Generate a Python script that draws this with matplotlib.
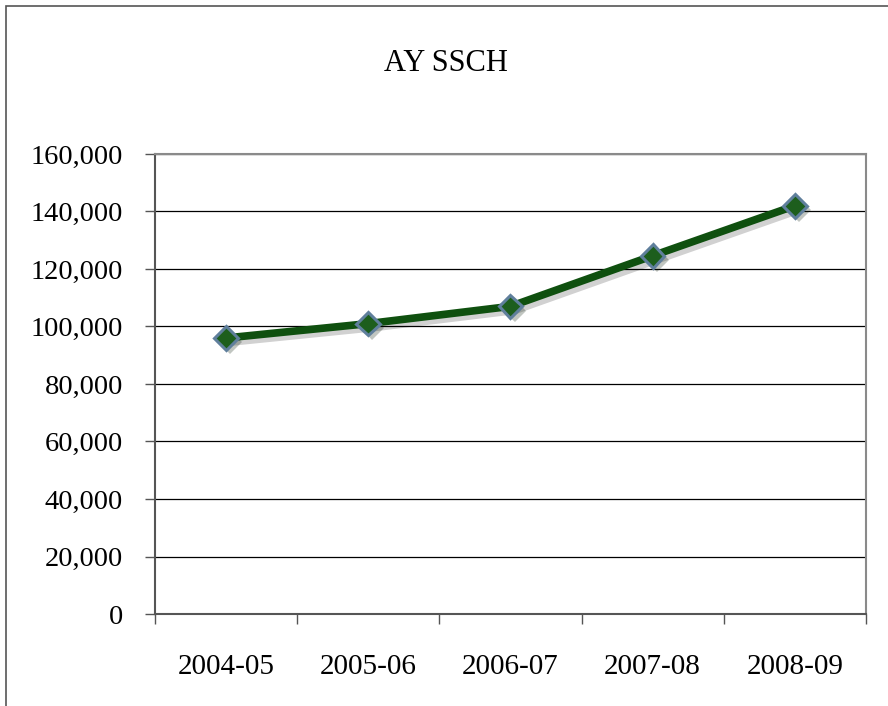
import matplotlib
matplotlib.use("Agg")
import matplotlib.pyplot as plt
import matplotlib.patheffects as pe
from matplotlib.patches import Rectangle
from matplotlib.ticker import FuncFormatter, FixedLocator

years = ["2004-05", "2005-06", "2006-07", "2007-08", "2008-09"]
ssch = [96000, 101000, 107000, 124600, 142000]
y_ticks = [0, 20000, 40000, 60000, 80000, 100000, 120000, 140000, 160000]

plt.rcParams['font.family'] = ['Liberation Serif', 'DejaVu Serif']

fig = plt.figure(figsize=(8.88, 7.06), dpi=100)
ax = fig.add_axes([0.1745, 0.1303, 0.8007, 0.6516])

# outer chart frame (cut off at right and bottom)
fig.patches.append(Rectangle((0.0062, -0.05), 1.1, 0.9915 + 0.05, transform=fig.transFigure,
                             fill=False, edgecolor="#555555", linewidth=1.2))

x = list(range(len(years)))
# line with soft shadow
ax.plot(x, ssch, color="#0f500f", linewidth=5.5, solid_joinstyle="round",
        path_effects=[pe.SimpleLineShadow(offset=(3, -3), alpha=0.18, shadow_color="black"), pe.Normal()],
        zorder=3)
# diamond markers
ax.plot(x, ssch, linestyle="none", marker="D", markersize=12,
        markerfacecolor="#1d5e1d", markeredgecolor="#5f7f9c", markeredgewidth=2.2,
        path_effects=[pe.SimplePatchShadow(offset=(3, -3), alpha=0.25), pe.Normal()],
        zorder=4)

ax.set_xlim(-0.5, len(years) - 0.5)
ax.set_ylim(0, 160000)
ax.set_yticks(y_ticks)
ax.yaxis.set_major_formatter(FuncFormatter(lambda v, p: f"{int(v):,}"))
ax.grid(axis="y", color="black", linewidth=0.9)
ax.set_axisbelow(True)

ax.xaxis.set_major_locator(FixedLocator([i - 0.5 for i in range(len(years) + 1)]))
ax.xaxis.set_minor_locator(FixedLocator(x))
ax.set_xticklabels([], minor=False)
ax.set_xticklabels(years, minor=True)
ax.tick_params(axis="x", which="major", length=7, width=1, color="#555555", direction="out")
ax.tick_params(axis="x", which="minor", length=0, pad=29, labelsize=21)
ax.tick_params(axis="y", length=7, width=1, color="#555555", pad=16, labelsize=20.5)

for side in ["top", "right"]:
    ax.spines[side].set_color("#8a8a8a")
    ax.spines[side].set_linewidth(1.5)
for side in ["left", "bottom"]:
    ax.spines[side].set_color("#555555")
    ax.spines[side].set_linewidth(1.5)

fig.text(0.502, 0.91, "AY SSCH", ha="center", va="center", fontsize=22)

fig.savefig("out.png", dpi=100)
